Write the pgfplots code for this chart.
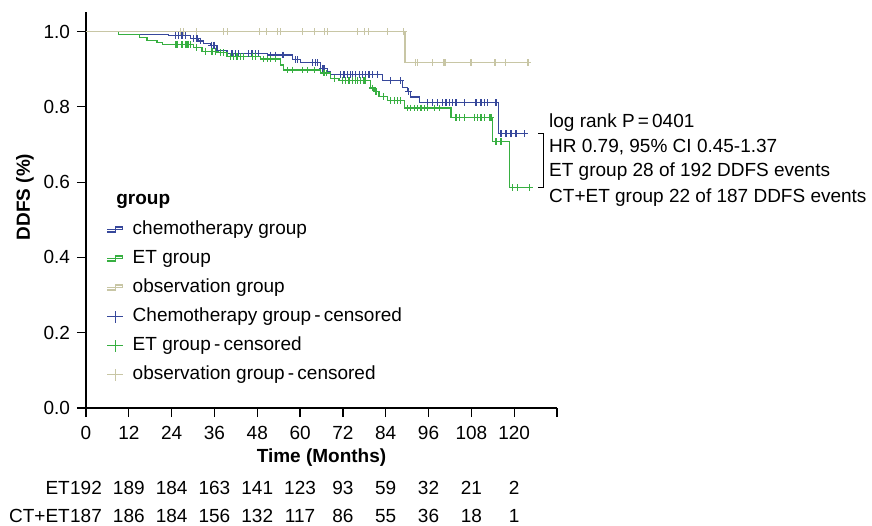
\documentclass[border=0pt]{standalone}
\usepackage{fontspec}
\setmainfont{Liberation Sans}
\usepackage{pgfplots}
\pgfplotsset{compat=1.18}
\definecolor{chemoblue}{RGB}{55,72,155}
\definecolor{etgreen}{RGB}{55,175,65}
\definecolor{obsbeige}{RGB}{200,198,165}
\pgfplotsset{
  kmstep/.style={legend image code/.code={\color{#1}\path (0pt,0pt) -- (8pt,0pt);\draw[draw=#1, line width=0.75pt] (0pt,-1.1pt) -- (4.3pt,-1.1pt) -- (4.3pt,1.3pt) -- (7.8pt,1.3pt) -- (7.8pt,-0.4pt);}},
  kmcens/.style={legend image code/.code={\color{#1}\path (0pt,0pt) -- (8pt,0pt);\draw[draw=#1, line width=0.8pt] (1.2pt,0pt) -- (7.2pt,0pt) (4.2pt,-3pt) -- (4.2pt,3pt);}},
}
\begin{document}
\begin{tikzpicture}[font=\fontsize{9.5}{11.4}\selectfont]
\path[use as bounding box] (-43pt,-58.5pt) rectangle (393pt,204pt);
\begin{axis}[
  at={(0,0)}, anchor=south west,
  scale only axis, width=235.5pt, height=198pt,
  xmin=0, xmax=132, ymin=0, ymax=1.052,
  axis x line*=bottom, axis y line*=left,
  axis line style={line width=0.6pt, black},
  tick align=outside, major tick length=4.5pt,
  tick style={line width=0.6pt, black},
  xtick={0,12,24,36,48,60,72,84,96,108,120,132},
  xticklabels={0,12,24,36,48,60,72,84,96,108,120,{}},
  ytick={0,0.2,0.4,0.6,0.8,1.0},
  yticklabel style={/pgf/number format/.cd, fixed, fixed zerofill, precision=1},
  /pgf/number format/assume math mode=true,
  xticklabel style={yshift=-1pt},
  clip=false,
  xlabel={\textbf{Time (Months)}},
  xlabel style={at={(axis description cs:0.5,-0.126)}, anchor=center},
  ylabel={\textbf{DDFS (\%)}},
  ylabel style={at={(axis description cs:-0.1295,0.533)}, anchor=center},
  legend style={at={(axis cs:5.6,0.50)}, anchor=north west, draw=none, fill=none,
    inner sep=0pt, row sep=5pt, column sep=4.5pt,
    nodes={inner sep=0pt, text height=7pt, text depth=2.5pt, anchor=west}},
  legend cell align=left,
]
% ---- KM curves ----
\addplot[const plot, color=chemoblue, line width=0.6pt, kmstep=chemoblue]
coordinates {
(0,1.0) (9.1,0.993) (23.1,0.990) (29.2,0.981) (31.6,0.975) (33.0,0.969) (34.8,0.964)
(36.7,0.950) (39.5,0.942) (50.8,0.938) (57.8,0.926) (60.1,0.918) (65.8,0.902)
(67.6,0.893) (68.6,0.885) (83.1,0.869) (88.7,0.852) (90.1,0.841) (91.0,0.826)
(93.4,0.811) (115.5,0.729) (123.8,0.729)
};
\addplot[const plot, color=etgreen, line width=0.6pt, kmstep=etgreen]
coordinates {
(0,1.0) (9.1,0.993) (15.0,0.984) (17.1,0.977) (19.9,0.971) (21.5,0.966) (30.1,0.958)
(32.5,0.948) (36.7,0.944) (39.5,0.934) (48.9,0.927) (54.5,0.911) (55.4,0.898)
(65.8,0.890) (68.6,0.876) (70.9,0.870) (79.8,0.850) (80.7,0.841) (82.1,0.828)
(84.5,0.816) (89.2,0.797) (102.3,0.772) (114.0,0.708) (118.7,0.586) (124.8,0.586)
};
\addplot[const plot, color=obsbeige, line width=0.6pt, kmstep=obsbeige]
coordinates {
(0,1.0) (89.4,0.918) (123.9,0.918)
};
% ---- censored marks ----
\addplot[color=chemoblue, only marks, mark=+, mark size=1.7pt, mark options={line width=0.6pt, draw=chemoblue}, kmcens=chemoblue]
coordinates {
(25.1,0.990) (26.0,0.990) (26.9,0.990) (27.8,0.990)
(30.2,0.981) (31.1,0.981) (32.2,0.975) (35.1,0.964) (35.9,0.964)
(40.9,0.942) (41.8,0.942) (42.8,0.942) (45.6,0.942) (46.5,0.942) (47.5,0.942) (48.4,0.942)
(51.7,0.938) (53.0,0.938) (55.0,0.938) (55.4,0.938)
(58.8,0.926) (59.2,0.926) (63.4,0.918) (64.3,0.918) (64.8,0.918)
(66.2,0.902) (66.7,0.902)
(71.4,0.885) (72.3,0.885) (73.3,0.885) (74.2,0.885) (74.7,0.885) (75.6,0.885)
(76.6,0.885) (77.5,0.885) (78.4,0.885) (79.3,0.885) (80.3,0.885) (81.7,0.885)
(85.4,0.869) (88.2,0.869) (90.4,0.841)
(95.7,0.811) (97.1,0.811) (98.5,0.811) (100.0,0.811) (100.9,0.811) (101.8,0.811)
(102.8,0.811) (103.7,0.811) (106.0,0.811) (109.3,0.811) (110.7,0.811) (111.6,0.811)
(112.6,0.811) (114.9,0.811)
(116.3,0.729) (117.7,0.729) (119.1,0.729) (120.5,0.729) (122.9,0.729)
};
\addplot[color=etgreen, only marks, mark=+, mark size=1.7pt, mark options={line width=0.6pt, draw=etgreen}, kmcens=etgreen]
coordinates {
(25.0,0.966) (25.5,0.966) (26.9,0.966) (27.8,0.966) (28.3,0.966) (28.7,0.966) (29.2,0.966)
(31.0,0.958) (33.4,0.948) (35.3,0.948) (36.2,0.948) (37.7,0.944) (38.6,0.944)
(40.5,0.934) (41.4,0.934) (42.3,0.934) (43.3,0.934) (44.2,0.934) (46.6,0.934) (47.5,0.934)
(49.8,0.927) (50.8,0.927) (51.7,0.927) (53.1,0.927)
(56.4,0.898) (57.8,0.898) (60.7,0.898) (62.0,0.898) (64.1,0.898)
(66.7,0.890) (67.5,0.890) (69.6,0.876)
(71.8,0.870) (72.8,0.870) (73.7,0.870) (74.7,0.870) (75.6,0.870) (76.1,0.870)
(77.0,0.870) (77.9,0.870) (78.4,0.870)
(80.2,0.850) (81.3,0.841) (83.4,0.828)
(85.4,0.816) (86.4,0.816) (87.3,0.816) (88.2,0.816)
(90.1,0.797) (91.0,0.797) (92.0,0.797) (93.0,0.797) (93.9,0.797) (94.8,0.797)
(95.7,0.797) (97.6,0.797) (99.0,0.797)
(103.7,0.772) (104.6,0.772) (106.0,0.772) (108.8,0.772) (109.8,0.772) (110.7,0.772)
(111.6,0.772) (113.1,0.772) (113.5,0.772)
(114.9,0.708) (116.3,0.708)
(119.6,0.586) (121.0,0.586) (124.3,0.586)
};
\addplot[color=obsbeige, only marks, mark=+, mark size=1.7pt, mark options={line width=0.6pt, draw=obsbeige}, kmcens=obsbeige]
coordinates {
(26.4,1.0) (27.3,1.0) (30.9,1.0) (38.5,1.0) (39.6,1.0) (48.6,1.0) (50.6,1.0)
(53.7,1.0) (54.5,1.0) (60.7,1.0) (64.1,1.0) (66.9,1.0) (67.7,1.0) (76.2,1.0)
(78.1,1.0) (79.2,1.0) (84.6,1.0) (89.0,1.0)
(92.4,0.918) (93.0,0.918) (97.2,0.918) (100.3,0.918) (100.6,0.918) (107.9,0.918)
(114.6,0.918) (117.5,0.918) (123.9,0.918)
};
\legend{chemotherapy group, ET group, observation group,
  Chemotherapy group\,-\,censored, ET group\,-\,censored, observation group\,-\,censored}
% legend title
\node[anchor=west, inner sep=0pt, font=\fontsize{9.5}{11.4}\selectfont\bfseries] at (axis cs:8.4,0.55) {group};
% bracket and annotation
\draw[line width=0.6pt] (axis cs:126.8,0.729) -- (axis cs:128.2,0.729) -- (axis cs:128.2,0.586) -- (axis cs:126.8,0.586);
\node[anchor=west, inner sep=0pt] at (axis cs:129.7,0.757) {log rank P\,=\,0401};
\node[anchor=west, inner sep=0pt] at (axis cs:129.7,0.693) {HR 0.79, 95\% CI 0.45-1.37};
\node[anchor=west, inner sep=0pt] at (axis cs:129.7,0.627) {ET group 28 of 192 DDFS events};
\node[anchor=west, inner sep=0pt] at (axis cs:129.7,0.560) {CT+ET group 22 of 187 DDFS events};
% numbers at risk
\node[anchor=east, inner sep=0pt, xshift=-7.9pt] at (axis cs:0,-0.212) {ET};
\node at (axis cs:0,-0.212) {192};
\node at (axis cs:12,-0.212) {189};
\node at (axis cs:24,-0.212) {184};
\node at (axis cs:36,-0.212) {163};
\node at (axis cs:48,-0.212) {141};
\node at (axis cs:60,-0.212) {123};
\node at (axis cs:72,-0.212) {93};
\node at (axis cs:84,-0.212) {59};
\node at (axis cs:96,-0.212) {32};
\node at (axis cs:108,-0.212) {21};
\node at (axis cs:120,-0.212) {2};
\node[anchor=east, inner sep=0pt, xshift=-7.9pt] at (axis cs:0,-0.288) {CT+ET};
\node at (axis cs:0,-0.288) {187};
\node at (axis cs:12,-0.288) {186};
\node at (axis cs:24,-0.288) {184};
\node at (axis cs:36,-0.288) {156};
\node at (axis cs:48,-0.288) {132};
\node at (axis cs:60,-0.288) {117};
\node at (axis cs:72,-0.288) {86};
\node at (axis cs:84,-0.288) {55};
\node at (axis cs:96,-0.288) {36};
\node at (axis cs:108,-0.288) {18};
\node at (axis cs:120,-0.288) {1};
\end{axis}
\end{tikzpicture}
\end{document}
